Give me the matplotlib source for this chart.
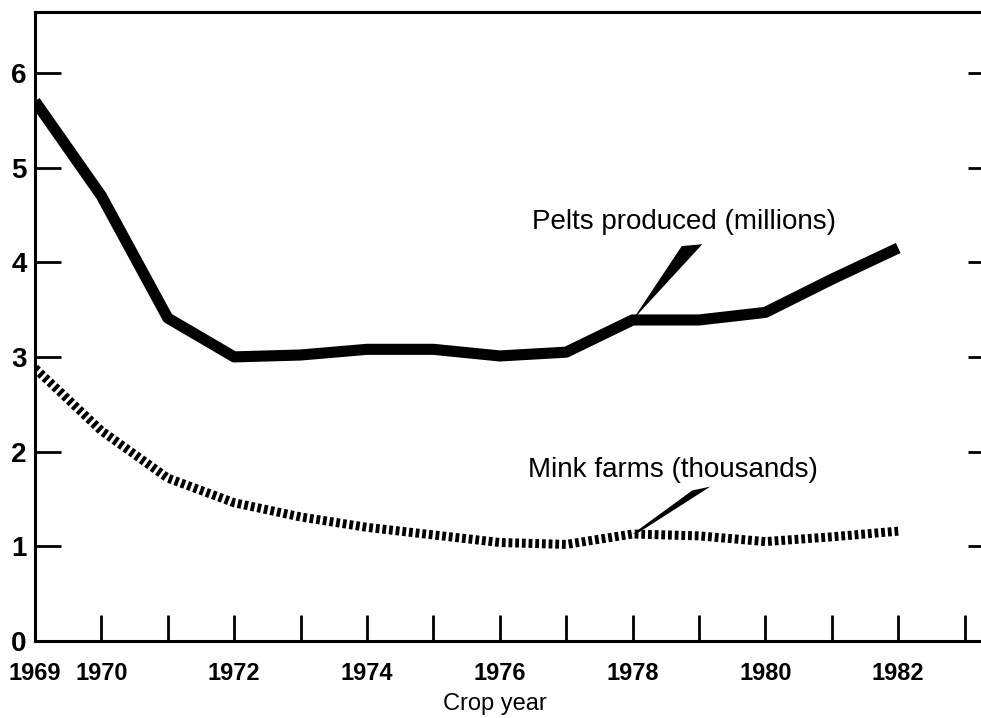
import matplotlib
matplotlib.use("Agg")
import matplotlib.pyplot as plt
from matplotlib.patches import Polygon
from matplotlib import font_manager

years = [1969, 1970, 1971, 1972, 1973, 1974, 1975, 1976, 1977, 1978, 1979, 1980, 1981, 1982]
pelts = [5.7, 4.7, 3.41, 3.0, 3.02, 3.08, 3.08, 3.01, 3.05, 3.39, 3.39, 3.47, 3.82, 4.15]
farms = [2.88, 2.22, 1.72, 1.46, 1.31, 1.2, 1.12, 1.04, 1.02, 1.13, 1.11, 1.05, 1.1, 1.16]

tick_years = list(range(1969, 1984))
labelled = [1969, 1970, 1972, 1974, 1976, 1978, 1980, 1982]
y_ticks = [0, 1, 2, 3, 4, 5, 6]

names = {f.name for f in font_manager.fontManager.ttflist}
narrow = "Liberation Sans Narrow" in names
tick_font = ["Liberation Sans Narrow", "Liberation Sans"] if narrow else ["Liberation Sans"]

plt.rcParams["font.family"] = ["Liberation Sans", "DejaVu Sans"]

fig = plt.figure(figsize=(9.81, 7.18), dpi=100)
ax = fig.add_axes([35 / 981, 77 / 718, 951 / 981, 629 / 718])

ax.plot(years, pelts, color="black", lw=8, solid_joinstyle="round", solid_capstyle="butt")
ax.plot(years, farms, color="black", lw=6.5, dashes=(0.42, 0.32), dash_capstyle="butt")

ax.set_xlim(1969, 1969 + 951 / 66.4)
ax.set_ylim(0, 629 / 94.7)

for s in ax.spines.values():
    s.set_linewidth(2.2)

ax.set_xticks(tick_years)
ax.set_xticklabels([str(y) if y in labelled else "" for y in tick_years],
                   family=tick_font, size=17, weight="bold")
ax.set_yticks(y_ticks)
ax.set_yticklabels([str(v) for v in y_ticks], family=tick_font, size=20, weight="bold")

ax.tick_params(axis="x", direction="in", length=19, width=2, pad=15)
ax.tick_params(axis="y", direction="in", length=19, width=2, pad=6, right=True)
for t in ax.yaxis.get_major_ticks():
    t.tick2line.set_markersize(13)

ax.set_xlabel("Crop year", fontsize=17)
ax.xaxis.set_label_coords(0.484, -0.082)

# labels with wedge pointers
ax.text(1976.49, 4.42, "Pelts produced (millions)", fontsize=20, va="center", ha="left")
ax.text(1976.42, 1.81, "Mink farms (thousands)", fontsize=20, va="center", ha="left")

px, py = years[9], pelts[9]
ax.add_patch(Polygon([(px, py), (px + 0.74, py + 0.78), (px + 1.05, py + 0.8)],
                     closed=True, color="black", lw=0))
fx, fy = years[9], farms[9]
ax.add_patch(Polygon([(fx, fy), (fx + 0.9, fy + 0.46), (fx + 1.17, fy + 0.5), (fx + 0.1, fy + 0.02)],
                     closed=True, color="black", lw=0))

fig.savefig("out.png", dpi=100)
